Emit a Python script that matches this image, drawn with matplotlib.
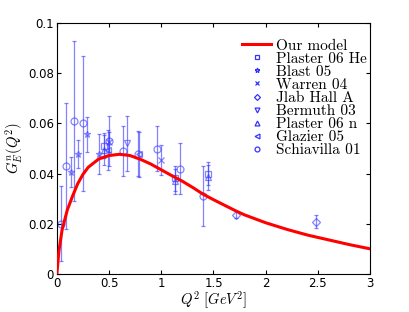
import numpy as np
import matplotlib
matplotlib.use("Agg")
import matplotlib.pyplot as plt
from matplotlib.lines import Line2D

plt.rcParams['mathtext.fontset'] = 'cm'

# model curve
model_q = [0, 0.02, 0.05, 0.1, 0.15, 0.2, 0.25, 0.3, 0.4, 0.5, 0.6, 0.7, 0.8,
           0.9, 1.0, 1.1, 1.2, 1.3, 1.4, 1.5, 1.6, 1.72, 1.8, 2.0, 2.2, 2.4,
           2.6, 2.8, 3.0]
model_g = [0, 0.0092, 0.0175, 0.0255, 0.031, 0.036, 0.0397, 0.0425, 0.0458,
           0.0472, 0.0477, 0.0472, 0.0457, 0.0438, 0.0415, 0.0392, 0.0370,
           0.0345, 0.0318, 0.0296, 0.0275, 0.0250, 0.0235, 0.0204, 0.0178,
           0.0155, 0.0136, 0.0117, 0.0100]

# experimental data
plaster_he_q = [0.447, 1.132, 1.45]
plaster_he_g = [0.0511, 0.0381, 0.0400]
plaster_he_e = [0.0050, 0.0050, 0.0045]

blast_q = [0.14, 0.20, 0.29, 0.40]
blast_g = [0.0405, 0.0477, 0.0557, 0.0477]
blast_e = [0.0060, 0.0055, 0.0070, 0.0080]

warren_q = [0.5, 1.0]
warren_g = [0.0526, 0.0454]
warren_e = [0.0040, 0.0060]

jlab_q = [1.72, 2.48]
jlab_g = [0.0236, 0.0208]
jlab_e = [0.0015, 0.0025]

bermuth_q = [0.67]
bermuth_g = [0.052]
bermuth_e = [0.011]

plaster_n_q = [0.447, 1.132, 1.45]
plaster_n_g = [0.0495, 0.0370, 0.0385]
plaster_n_e = [0.0060, 0.0050, 0.0050]

glazier_q = [0.49, 0.79]
glazier_g = [0.0495, 0.0477]
glazier_e = [0.0080, 0.0090]

schiavilla_q = [0.04, 0.09, 0.165, 0.25, 0.50, 0.63, 0.78, 0.96, 1.18, 1.40]
schiavilla_g = [0.020, 0.043, 0.061, 0.060, 0.053, 0.049, 0.048, 0.050, 0.042, 0.031]
schiavilla_e = [0.015, 0.025, 0.032, 0.027, 0.010, 0.010, 0.009, 0.009, 0.010, 0.012]

sets = [
    ("Plaster 06 He", plaster_he_q, plaster_he_g, plaster_he_e, 's'),
    ("Blast 05", blast_q, blast_g, blast_e, '*'),
    ("Warren 04", warren_q, warren_g, warren_e, 'x'),
    ("Jlab Hall A", jlab_q, jlab_g, jlab_e, 'D'),
    ("Bermuth 03", bermuth_q, bermuth_g, bermuth_e, 'v'),
    ("Plaster 06 n", plaster_n_q, plaster_n_g, plaster_n_e, '^'),
    ("Glazier 05", glazier_q, glazier_g, glazier_e, '<'),
    ("Schiavilla 01", schiavilla_q, schiavilla_g, schiavilla_e, 'o'),
]

fig = plt.figure(figsize=(4.09, 3.12), dpi=100)
ax = fig.add_axes([0.139, 0.122, 0.766, 0.804])

line, = ax.plot(model_q, model_g, color='#ff0000', lw=2.2, zorder=3)
handles = [line]
labels = ['Our model']

blue = '#3333ff'
for name, q, g, e, m in sets:
    ms = 5 if m != 'D' else 4
    ax.errorbar(q, g, yerr=e, fmt=m, color=blue, alpha=0.6, mfc='none',
                mec=blue, ms=ms, mew=0.9, elinewidth=0.9, capsize=1.5,
                zorder=2)
    handles.append(Line2D([], [], ls='none', marker=m, mfc='none', mec=blue,
                          ms=3.5 if m != 'D' else 3, mew=0.9))
    labels.append(name)

ax.set_xlim(0, 3)
ax.set_ylim(0, 0.1)
ax.set_xticks([0, 0.5, 1, 1.5, 2, 2.5, 3])
ax.set_xticklabels(['0', '0.5', '1', '1.5', '2', '2.5', '3'])
ax.set_yticks([0, 0.02, 0.04, 0.06, 0.08, 0.1])
ax.set_yticklabels(['0', '0.02', '0.04', '0.06', '0.08', '0.1'])
ax.tick_params(direction='in', top=True, right=True, labelsize=8.5, length=3,
               pad=2)

ax.set_xlabel(r'$Q^2\ [GeV^2]$', fontsize=10.5, labelpad=0)
ax.set_ylabel(r'$G_E^n(Q^2)$', fontsize=10.5, labelpad=2)

leg = ax.legend(handles, labels, loc='upper right', frameon=False,
                bbox_to_anchor=(1.013, 0.967),
                prop={'family': 'cmr10', 'size': 11},
                handlelength=1.9, handletextpad=0.3, labelspacing=-0.045,
                borderaxespad=0.1)

fig.savefig('out.png', dpi=100)
